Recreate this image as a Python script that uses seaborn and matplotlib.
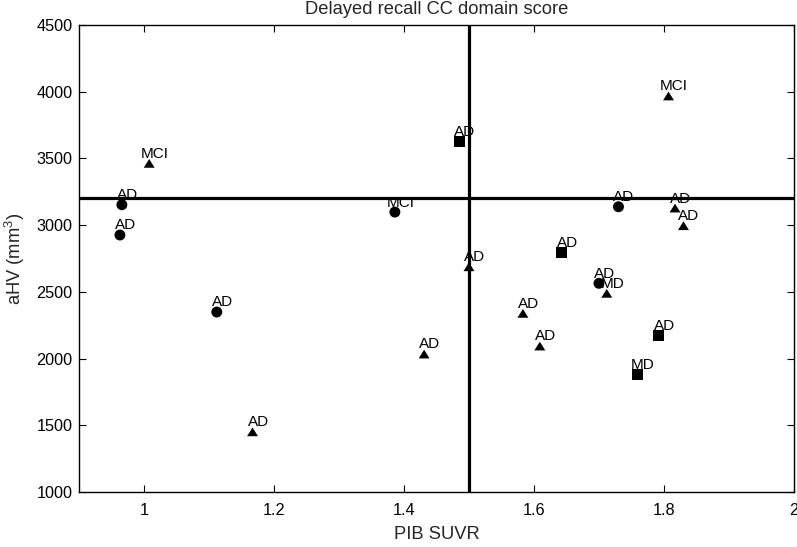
import matplotlib
matplotlib.use("Agg")
import matplotlib.pyplot as plt
import seaborn as sns
import pandas as pd
from matplotlib.path import Path

# ---- data ----
pib_suvr = [0.966, 0.963, 1.008, 1.386, 1.112, 1.167, 1.485, 1.807, 1.730, 1.817,
            1.830, 1.643, 1.500, 1.700, 1.712, 1.583, 1.609, 1.431, 1.792, 1.759]
ahv = [3153, 2926, 3463, 3098, 2349, 1451, 3625, 3968, 3138, 3128,
       2996, 2796, 2688, 2564, 2489, 2339, 2094, 2034, 2171, 1884]
diagnosis = ["AD", "AD", "MCI", "MCI", "AD", "AD", "AD", "MCI", "AD", "AD",
             "AD", "AD", "AD", "AD", "MD", "AD", "AD", "AD", "AD", "MD"]
group = ["circle", "circle", "triangle", "circle", "circle", "triangle", "square", "triangle", "circle", "triangle",
         "triangle", "square", "triangle", "circle", "triangle", "triangle", "triangle", "triangle", "square", "square"]
x_ticks = [1.0, 1.2, 1.4, 1.6, 1.8, 2.0]
x_tick_labels = ["1", "1.2", "1.4", "1.6", "1.8", "2"]
y_ticks = [1000, 1500, 2000, 2500, 3000, 3500, 4000, 4500]
pib_cutoff = 1.5
ahv_cutoff = 3200

df = pd.DataFrame({"PIB SUVR": pib_suvr, "aHV": ahv, "dx": diagnosis, "group": group})

sns.set_theme(style="ticks")
plt.rcParams["font.family"] = ["Liberation Sans", "DejaVu Sans"]
plt.rcParams["mathtext.fontset"] = "custom"
plt.rcParams["mathtext.rm"] = "Liberation Sans"
plt.rcParams["mathtext.it"] = "Liberation Sans:italic"

tri = Path([(-1, -0.8), (1, -0.8), (0, 0.8), (-1, -0.8)],
           [Path.MOVETO, Path.LINETO, Path.LINETO, Path.CLOSEPOLY])
markers = {"circle": "o", "triangle": tri, "square": "s"}

fig = plt.figure(figsize=(7.97, 5.47), dpi=100)
ax = fig.add_axes([0.0991, 0.1005, 0.8971, 0.8538])

ax.axhline(ahv_cutoff, color="black", lw=2.3, zorder=1)
ax.axvline(pib_cutoff, color="black", lw=2.3, zorder=1)

sns.scatterplot(data=df, x="PIB SUVR", y="aHV", style="group", markers=markers,
                color="black", s=62, linewidth=0, legend=False, ax=ax, zorder=3)

for xv, yv, lab in zip(pib_suvr, ahv, diagnosis):
    ax.annotate(lab, (xv, yv), xytext=(4, 4), textcoords="offset points",
                ha="center", va="baseline", fontsize=11, color="black", zorder=4)

ax.set_xlim(0.9, 2.0)
ax.set_ylim(1000, 4500)
ax.set_xticks(x_ticks)
ax.set_xticklabels(x_tick_labels)
ax.set_yticks(y_ticks)
ax.tick_params(direction="in", length=5, width=0.8, top=True, right=True,
               labelsize=11.7, colors="black")
ax.tick_params(axis="x", pad=8)
ax.tick_params(axis="y", pad=4.5)
for sp in ax.spines.values():
    sp.set_visible(True)
    sp.set_linewidth(1.0)
    sp.set_color("black")

ax.set_xlabel("PIB SUVR", fontsize=13.2, labelpad=6)
ax.set_ylabel("aHV (mm$^{3}$)", fontsize=13.2, labelpad=7)
ax.set_title("Delayed recall CC domain score", fontsize=13.2, pad=8)

fig.savefig("out.png", dpi=100)
